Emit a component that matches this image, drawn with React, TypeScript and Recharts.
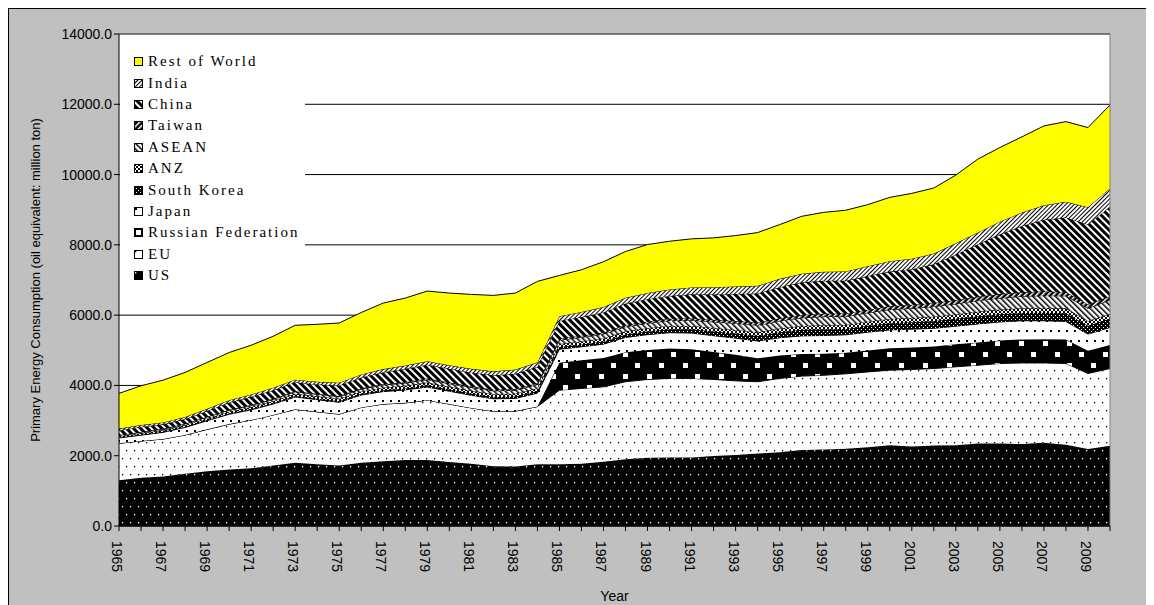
import { AreaChart, Area, XAxis, YAxis, CartesianGrid, ReferenceLine } from "recharts";

const FONT = '"Liberation Sans", Arial, sans-serif';
const LEGEND_FONT = '"Liberation Serif", "Times New Roman", serif';

const years = [
    1965, 1966, 1967, 1968, 1969, 1970, 1971, 1972, 1973, 1974, 1975, 1976, 1977, 1978, 1979, 1980,
    1981, 1982, 1983, 1984, 1985, 1986, 1987, 1988, 1989, 1990, 1991, 1992, 1993, 1994, 1995, 1996,
    1997, 1998, 1999, 2000, 2001, 2002, 2003, 2004, 2005, 2006, 2007, 2008, 2009, 2010,
];

const us = [
    1300, 1370, 1410, 1490, 1560, 1610, 1640, 1720, 1800, 1760, 1720, 1800, 1840, 1880, 1880, 1820,
    1770, 1700, 1690, 1760, 1760, 1770, 1830, 1900, 1940, 1950, 1950, 1990, 2020, 2060, 2100, 2160,
    2180, 2200, 2240, 2300, 2260, 2290, 2300, 2350, 2350, 2330, 2370, 2310, 2190, 2280,
];
const eu = [
    1055, 1050, 1065, 1100, 1190, 1290, 1375, 1440, 1520, 1490, 1465, 1575, 1630, 1625, 1700, 1650,
    1590, 1565, 1580, 1640, 2105, 2145, 2130, 2205, 2230, 2250, 2250, 2180, 2110, 2045, 2100, 2105,
    2110, 2130, 2145, 2135, 2195, 2190, 2230, 2225, 2275, 2310, 2270, 2315, 2150, 2200,
];
const russia = [
    0, 0, 0, 0, 0, 0, 0, 0, 0, 0, 0, 0, 0, 0, 0, 0,
    0, 0, 0, 0, 780, 800, 820, 840, 840, 850, 830, 780, 740, 670, 650, 630,
    610, 600, 610, 620, 625, 625, 640, 645, 650, 670, 675, 680, 645, 670,
];
const japan = [
    150, 165, 190, 215, 245, 280, 290, 310, 350, 345, 335, 350, 355, 365, 375, 365,
    360, 355, 360, 380, 385, 385, 395, 420, 435, 450, 460, 465, 475, 490, 505, 515,
    520, 510, 520, 525, 520, 520, 515, 530, 530, 530, 525, 515, 475, 500,
];
const southKorea = [
    10, 12, 14, 16, 18, 21, 23, 24, 28, 29, 31, 35, 40, 45, 50, 48,
    50, 51, 54, 58, 62, 67, 73, 82, 88, 97, 107, 121, 134, 145, 158, 172,
    181, 167, 182, 192, 197, 205, 210, 215, 221, 224, 230, 236, 238, 255,
];
const anz = [
    40, 42, 44, 46, 49, 53, 56, 58, 62, 65, 66, 69, 72, 73, 76, 77,
    79, 79, 79, 82, 84, 86, 89, 92, 95, 97, 97, 99, 101, 104, 107, 110,
    113, 116, 118, 121, 122, 125, 126, 130, 132, 133, 135, 137, 134, 138,
];
const asean = [
    30, 32, 34, 37, 40, 45, 48, 52, 58, 60, 62, 67, 73, 78, 84, 88,
    92, 95, 100, 105, 110, 115, 122, 130, 140, 150, 160, 172, 185, 198, 215, 232,
    245, 240, 250, 265, 275, 288, 300, 318, 328, 338, 350, 356, 362, 385,
];
const taiwan = [
    6, 7, 8, 9, 10, 12, 13, 15, 17, 17, 18, 21, 24, 27, 30, 33,
    33, 32, 35, 38, 40, 44, 47, 51, 53, 56, 60, 63, 67, 71, 75, 79,
    83, 87, 91, 97, 100, 103, 107, 111, 113, 114, 118, 112, 108, 114,
];
const china = [
    130, 142, 128, 131, 160, 205, 230, 245, 258, 262, 300, 312, 342, 382, 395, 392,
    390, 410, 432, 468, 508, 535, 572, 612, 633, 645, 680, 720, 772, 830, 885, 930,
    935, 932, 955, 985, 1015, 1100, 1300, 1490, 1700, 1890, 2040, 2120, 2280, 2540,
];
const india = [
    50, 52, 55, 58, 62, 64, 66, 70, 72, 76, 80, 85, 88, 92, 98, 100,
    108, 113, 120, 126, 135, 143, 152, 163, 176, 185, 195, 205, 210, 222, 238, 245,
    256, 262, 280, 295, 296, 305, 315, 340, 360, 380, 414, 446, 487, 524,
];
const restOfWorld = [
    1002, 1118, 1202, 1268, 1319, 1356, 1402, 1465, 1546, 1635, 1699, 1761, 1880, 1919, 1997, 2055,
    2118, 2162, 2178, 2303, 1161, 1201, 1290, 1315, 1379, 1373, 1382, 1404, 1450, 1514, 1543, 1634,
    1692, 1741, 1753, 1816, 1860, 1866, 1943, 2086, 2111, 2154, 2258, 2280, 2268, 2375,
];

const yTicks = [0, 2000, 4000, 6000, 8000, 10000, 12000, 14000];

// bottom -> top stacking order
const series = [
    { key: "us", name: "US", values: us, fill: "url(#pUS)" },
    { key: "eu", name: "EU", values: eu, fill: "url(#pEU)" },
    { key: "russia", name: "Russian Federation", values: russia, fill: "url(#pRU)" },
    { key: "japan", name: "Japan", values: japan, fill: "url(#pJP)" },
    { key: "korea", name: "South Korea", values: southKorea, fill: "url(#pKR)" },
    { key: "anz", name: "ANZ", values: anz, fill: "url(#pANZ)" },
    { key: "asean", name: "ASEAN", values: asean, fill: "url(#pASEAN)" },
    { key: "taiwan", name: "Taiwan", values: taiwan, fill: "url(#pTW)" },
    { key: "china", name: "China", values: china, fill: "url(#pCN)" },
    { key: "india", name: "India", values: india, fill: "url(#pIN)" },
    { key: "row", name: "Rest of World", values: restOfWorld, fill: "#ffff00" },
];

const data = years.map((yr, i) => {
    const row: any = { year: String(yr) };
    series.forEach((s) => {
        row[s.key] = s.values[i];
    });
    return row;
});

const YearTick = (props: any) => {
    const { x, y, payload } = props;
    if (Number(payload.value) % 2 === 0) return <g />;
    return (
        <g transform={`translate(${x},${y})`}>
            <text transform="rotate(90)" x={8} y={0} dy="0.5em" textAnchor="start" fill="#000" fontSize={14} fontFamily={FONT}>
                {payload.value}
            </text>
        </g>
    );
};

const YLabel = (props: any) => {
    const vb = props.viewBox || { x: 0, y: 25, width: 110, height: 492 };
    const cx = vb.x + 26;
    const cy = vb.y + vb.height / 2;
    return (
        <text x={cx} y={cy} transform={`rotate(-90, ${cx}, ${cy})`} textAnchor="middle" dominantBaseline="central" fill="#000" fontSize={13} fontFamily={FONT}>
            Primary Energy Consumption (oil equivalent: million ton)
        </text>
    );
};

function Patterns() {
    return (
        <defs>
            <pattern id="pUS" width="8" height="16" patternUnits="userSpaceOnUse">
                <rect width="8" height="16" fill="#000" />
                <rect x="1" y="1" width="1.3" height="1.3" fill="#fff" />
                <rect x="5" y="9" width="1.3" height="1.3" fill="#fff" />
            </pattern>
            <pattern id="pEU" width="8" height="16" patternUnits="userSpaceOnUse">
                <rect width="8" height="16" fill="#fff" />
                <rect x="1" y="1" width="1.3" height="1.3" fill="#000" />
                <rect x="5" y="9" width="1.3" height="1.3" fill="#000" />
            </pattern>
            <pattern id="pRU" width="24" height="22" patternUnits="userSpaceOnUse">
                <rect width="24" height="22" fill="#000" />
                <rect x="2" y="2" width="5" height="5" fill="#fff" />
                <rect x="14" y="13" width="5" height="5" fill="#fff" />
            </pattern>
            <pattern id="pJP" width="8" height="20" patternUnits="userSpaceOnUse">
                <rect width="8" height="20" fill="#fff" />
                <rect x="1" y="1" width="2" height="2" fill="#000" />
                <rect x="5" y="11" width="2" height="2" fill="#000" />
            </pattern>
            <pattern id="pKR" width="4" height="4" patternUnits="userSpaceOnUse">
                <rect width="4" height="4" fill="#000" />
                <rect x="0" y="0" width="1" height="1" fill="#fff" />
                <rect x="2" y="2" width="1" height="1" fill="#fff" />
            </pattern>
            <pattern id="pANZ" width="4" height="4" patternUnits="userSpaceOnUse">
                <rect width="4" height="4" fill="#fff" />
                <rect x="0" y="0" width="2" height="2" fill="#000" />
                <rect x="2" y="2" width="2" height="2" fill="#000" />
            </pattern>
            <pattern id="pASEAN" width="4" height="4" patternUnits="userSpaceOnUse" patternTransform="rotate(-45)">
                <rect width="4" height="4" fill="#fff" />
                <rect width="1.5" height="4" fill="#000" />
            </pattern>
            <pattern id="pTW" width="4" height="4" patternUnits="userSpaceOnUse" patternTransform="rotate(45)">
                <rect width="4" height="4" fill="#000" />
                <rect width="1.5" height="4" fill="#fff" />
            </pattern>
            <pattern id="pCN" width="5" height="5" patternUnits="userSpaceOnUse" patternTransform="rotate(-45)">
                <rect width="5" height="5" fill="#fff" />
                <rect width="3" height="5" fill="#000" />
            </pattern>
            <pattern id="pIN" width="3" height="3" patternUnits="userSpaceOnUse" patternTransform="rotate(45)">
                <rect width="3" height="3" fill="#fff" />
                <rect width="1" height="3" fill="#000" />
            </pattern>
        </defs>
    );
}

export default function App() {
    const legendItems = [...series].reverse();

    return (
        <div style={{
            position: "relative",
            width: 1145,
            height: 596,
            background: "#c0c0c0",
            borderTop: "1px solid #000",
            borderLeft: "1px solid #000",
        }}>
            <style>{"html,body{overflow:hidden}"}</style>
            <AreaChart
                width={1145}
                height={596}
                data={data}
                margin={{ top: 25, right: 44, left: 0, bottom: 0 }}
            >
                <Patterns />
                <CartesianGrid horizontal={true} vertical={false} stroke="#000" fill="#fff" fillOpacity={1} />
                <XAxis
                    dataKey="year"
                    interval={0}
                    height={79}
                    tickSize={5}
                    tick={<YearTick />}
                    axisLine={{ stroke: "#000" }}
                    tickLine={{ stroke: "#000" }}
                    label={{ value: "Year", position: "insideBottom", offset: 4, fill: "#000", fontSize: 14, fontFamily: FONT }}
                />
                <YAxis
                    width={110}
                    domain={[0, 14000]}
                    ticks={yTicks}
                    interval={0}
                    tickSize={5}
                    tickFormatter={(v: number) => v.toFixed(1)}
                    tick={{ fill: "#000", fontSize: 14, fontFamily: FONT }}
                    axisLine={{ stroke: "#000" }}
                    tickLine={{ stroke: "#000" }}
                    label={(p: any) => <YLabel {...p} />}
                />
                {series.map((s) => (
                    <Area
                        key={s.key}
                        type="linear"
                        dataKey={s.key}
                        name={s.name}
                        stackId="1"
                        fill={s.fill}
                        fillOpacity={1}
                        stroke="#000"
                        strokeWidth={1}
                        dot={false}
                        activeDot={false}
                        isAnimationActive={false}
                    />
                ))}
                <ReferenceLine y={14000} stroke="#808080" strokeWidth={1} />
                <ReferenceLine x="2010" stroke="#808080" strokeWidth={1} />
            </AreaChart>

            <div style={{
                position: "absolute",
                left: 111,
                top: 36,
                width: 185,
                height: 245,
                background: "#fff",
                paddingTop: 6,
                boxSizing: "border-box",
            }}>
                {legendItems.map((s) => (
                    <div key={s.key} style={{
                        display: "flex",
                        alignItems: "center",
                        height: 21.4,
                        fontFamily: LEGEND_FONT,
                        fontSize: 15,
                        letterSpacing: 2,
                        color: "#000",
                        whiteSpace: "nowrap",
                    }}>
                        <svg width={9} height={9} style={{ marginLeft: 14, marginRight: 5, flex: "none" }}>
                            <rect x={0.5} y={0.5} width={8} height={8} fill={s.fill} stroke="#000" strokeWidth={1} />
                        </svg>
                        {s.name}
                    </div>
                ))}
            </div>
        </div>
    );
}
